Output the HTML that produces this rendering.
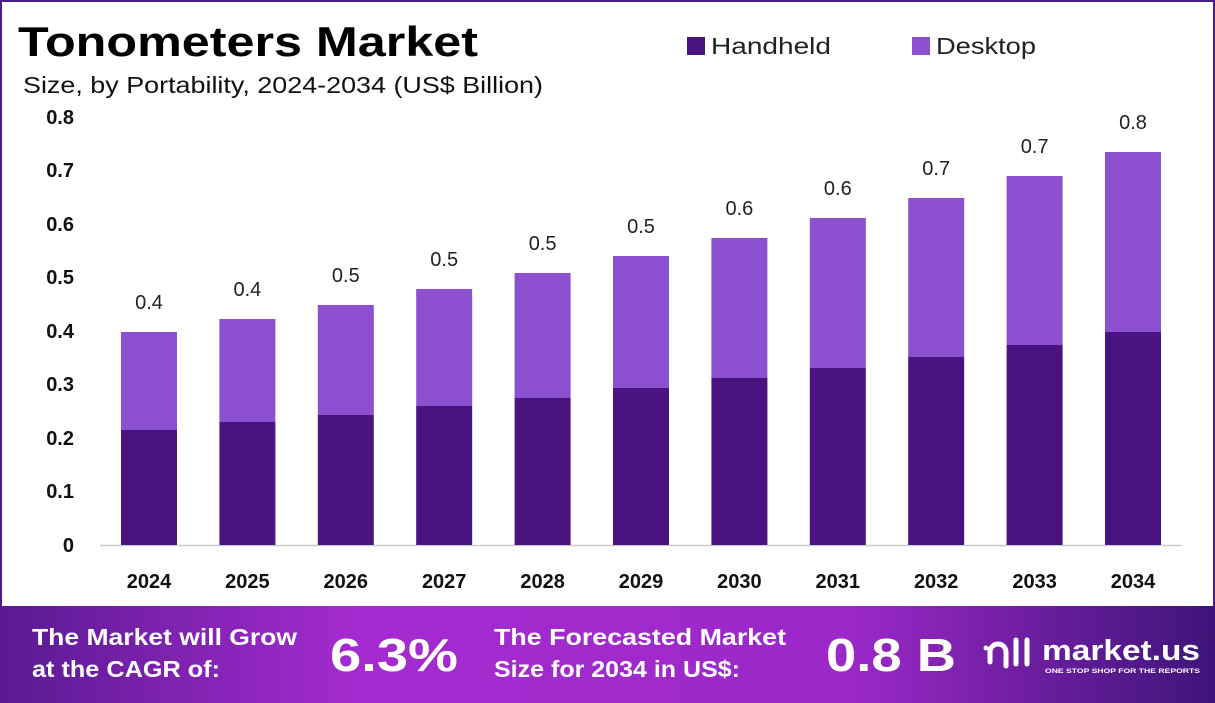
<!DOCTYPE html>
<html><head><meta charset="utf-8"><style>
body{margin:0;width:1215px;height:703px;overflow:hidden;font-family:"Liberation Sans",sans-serif;background:#fff}
.frame{position:absolute;left:0;top:0;width:1211px;height:699px;border:2px solid #4b1d86;border-bottom:none}
</style></head><body>
<div class="frame"></div>
<svg width="1215" height="703" style="position:absolute;left:0;top:0" font-family="Liberation Sans, sans-serif">
<defs><linearGradient id="g" x1="0" x2="1"><stop offset="0" stop-color="#5a1a92"/><stop offset="0.3" stop-color="#a52bd0"/><stop offset="0.7" stop-color="#9b28c8"/><stop offset="1" stop-color="#3e1478"/></linearGradient></defs>
<text x="18" y="56" font-size="42" font-weight="bold" fill="#000" textLength="460" lengthAdjust="spacingAndGlyphs">Tonometers Market</text>
<text x="23" y="93" font-size="23" fill="#111" textLength="520" lengthAdjust="spacingAndGlyphs">Size, by Portability, 2024-2034 (US$ Billion)</text>
<rect x="687" y="37" width="18" height="18" fill="#4a1480"/><text x="711" y="54" font-size="23" fill="#222" textLength="120" lengthAdjust="spacingAndGlyphs">Handheld</text>
<rect x="912" y="37" width="18" height="18" fill="#8b4fcf"/><text x="936" y="54" font-size="23" fill="#222" textLength="100" lengthAdjust="spacingAndGlyphs">Desktop</text>
<g font-size="20" font-weight="bold" fill="#111" text-anchor="end">
<text x="74" y="552">0</text><text x="74" y="498">0.1</text><text x="74" y="445">0.2</text><text x="74" y="391">0.3</text><text x="74" y="338">0.4</text><text x="74" y="284">0.5</text><text x="74" y="231">0.6</text><text x="74" y="177">0.7</text><text x="74" y="124">0.8</text>
</g>
<line x1="100" y1="545.5" x2="1182" y2="545.5" stroke="#ccc" stroke-width="1.5"/>
<g id="bars"></g>
<rect x="0" y="606" width="1215" height="97" fill="url(#g)"/>
<g fill="#fff" font-weight="bold">
<text x="32" y="645" font-size="23" textLength="265" lengthAdjust="spacingAndGlyphs">The Market will Grow</text>
<text x="32" y="677" font-size="23" textLength="188" lengthAdjust="spacingAndGlyphs">at the CAGR of:</text>
<text x="330" y="671" font-size="46" textLength="128" lengthAdjust="spacingAndGlyphs">6.3%</text>
<text x="494" y="645" font-size="23" textLength="292" lengthAdjust="spacingAndGlyphs">The Forecasted Market</text>
<text x="494" y="677" font-size="23" textLength="246" lengthAdjust="spacingAndGlyphs">Size for 2034 in US$:</text>
<text x="826" y="671" font-size="46" textLength="130" lengthAdjust="spacingAndGlyphs">0.8 B</text>
<text x="1042" y="660" font-size="29" textLength="158" lengthAdjust="spacingAndGlyphs">market.us</text>
<text x="1045" y="673" font-size="6.5" textLength="155" lengthAdjust="spacingAndGlyphs">ONE STOP SHOP FOR THE REPORTS</text>
</g>
<g fill="none" stroke="#fff" stroke-width="5" stroke-linecap="round">
<path d="M990 662 v-10 a8 8 0 0 1 16 0 v14"/><path d="M1016 664 v-24"/><path d="M1027 664 v-24"/>
</g>
<circle cx="986" cy="648" r="2.5" fill="#fff"/>
</svg>
<script>
var tot=[332,319,305,289,273,256,238,218,198,176,152],hh=[430,422,415,406,398,388,378,368,357,345,332],lab=["0.4","0.4","0.5","0.5","0.5","0.5","0.6","0.6","0.7","0.7","0.8"];
var s="";for(var i=0;i<11;i++){var c=149+i*98.4,x=c-28;
s+='<rect x="'+x+'" y="'+tot[i]+'" width="56" height="'+(hh[i]-tot[i])+'" fill="#8b4fcf"/>';
s+='<rect x="'+x+'" y="'+hh[i]+'" width="56" height="'+(545-hh[i])+'" fill="#4a1480"/>';
s+='<text x="'+c+'" y="'+(tot[i]-23)+'" font-size="20" text-anchor="middle" fill="#222">'+lab[i]+'</text>';
s+='<text x="'+c+'" y="588" font-size="20" font-weight="bold" text-anchor="middle" fill="#111">'+(2024+i)+'</text>';}
document.getElementById("bars").innerHTML=s;
</script>
</body></html>
